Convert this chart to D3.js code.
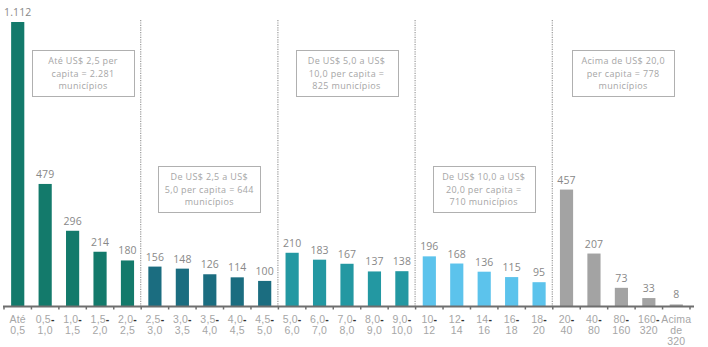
<!DOCTYPE html>
<html>
<head>
<meta charset="utf-8">
<script src="https://cdn.jsdelivr.net/npm/d3@7"></script>
<style>
  html, body { margin: 0; padding: 0; background: #fff; }
  svg { display: block; font-family: "Open Sans", Lato, sans-serif; }
</style>
</head>
<body>
<svg id="chart" width="708" height="347"></svg>
<script>
// Municipalities by per-capita band (US$)
const categories = [
  "Até|0,5", "0,5-|1,0", "1,0-|1,5", "1,5-|2,0", "2,0-|2,5",
  "2,5-|3,0", "3,0-|3,5", "3,5-|4,0", "4,0-|4,5", "4,5-|5,0",
  "5,0-|6,0", "6,0-|7,0", "7,0-|8,0", "8,0-|9,0", "9,0-|10,0",
  "10-|12", "12-|14", "14-|16", "16-|18", "18-|20",
  "20-|40", "40-|80", "80-|160", "160-|320", "Acima|de|320"
];
const values = [
  1112, 479, 296, 214, 180,
  156, 148, 126, 114, 100,
  210, 183, 167, 137, 138,
  196, 168, 136, 115, 95,
  457, 207, 73, 33, 8
];
const groupOf = [0,0,0,0,0, 1,1,1,1,1, 2,2,2,2,2, 3,3,3,3,3, 4,4,4,4,4];
const groupColors = ["#137a6b", "#1b6d80", "#2398a2", "#5cc3ec", "#a3a3a3"];
const groupNotes = [
  ["Até US$ 2,5 per", "capita = 2.281", "municípios"],
  ["De US$ 2,5 a US$", "5,0 per capita = 644", "municípios"],
  ["De US$ 5,0 a US$", "10,0 per capita =", "825 municípios"],
  ["De US$ 10,0 a US$", "20,0 per capita =", "710 municípios"],
  ["Acima de US$ 20,0", "per capita = 778", "municípios"]
];
const notePlacement = ["high", "low", "high", "low", "high"];

const svg = d3.select("#chart");
const margin = { left: 4, right: 18, top: 22, bottom: 40 };
const W = 708, H = 347;
const baseY = 306.5;

const x = d3.scaleBand()
  .domain(d3.range(categories.length))
  .range([margin.left, W - margin.right])
  .paddingInner(0.52)
  .paddingOuter(0.26);

const y = d3.scaleLinear()
  .domain([0, 1112])
  .range([baseY, margin.top]);

const fmt = d3.formatLocale({ decimal: ",", thousands: ".", grouping: [3], currency: ["", ""] }).format(",d");

// group separators (dotted)
const step = x.step();
const groupEdges = [5, 10, 15, 20].map(i => x(i) - x.paddingInner() * step / 2 - 0.5);
svg.append("g").selectAll("line")
  .data(groupEdges)
  .join("line")
  .attr("x1", d => d).attr("x2", d => d)
  .attr("y1", 20).attr("y2", baseY)
  .attr("stroke", "#9a9a9a")
  .attr("stroke-width", 1.2)
  .attr("stroke-dasharray", "1.2,1.2");

// bars
svg.append("g").selectAll("rect")
  .data(values)
  .join("rect")
  .attr("x", (d, i) => x(i))
  .attr("width", x.bandwidth())
  .attr("y", d => y(d))
  .attr("height", d => baseY - y(d))
  .attr("fill", (d, i) => groupColors[groupOf[i]]);

// value labels
svg.append("g").selectAll("text")
  .data(values)
  .join("text")
  .attr("x", (d, i) => x(i) + x.bandwidth() / 2)
  .attr("y", d => y(d) - 6)
  .attr("text-anchor", "middle")
  .attr("font-size", 10.5)
  .attr("letter-spacing", 0.1)
  .attr("fill", "#888")
  .text(d => fmt(d));

// x axis
const xAxis = d3.axisBottom(x).tickSize(3).tickFormat("");
const axisG = svg.append("g")
  .attr("transform", `translate(0,${baseY})`)
  .call(xAxis);
axisG.select(".domain").remove();
axisG.append("line")
  .attr("x1", 3).attr("x2", 694)
  .attr("stroke", "#6e6e6e").attr("stroke-width", 2);
// ticks at band edges
axisG.selectAll(".tick line")
  .attr("transform", `translate(${-step / 2},0)`)
  .attr("stroke", "#6e6e6e").attr("stroke-width", 1.5);
axisG.append("line")
  .attr("x1", x(categories.length - 1) + x.bandwidth() / 2 + step / 2)
  .attr("x2", x(categories.length - 1) + x.bandwidth() / 2 + step / 2)
  .attr("y1", 0).attr("y2", 3)
  .attr("stroke", "#6e6e6e").attr("stroke-width", 1.5);

// tick labels (multi-line)
axisG.selectAll(".tick").each(function(d) {
  const lines = categories[d].split("|");
  const t = d3.select(this).append("text")
    .attr("text-anchor", "middle")
    .attr("font-size", 10.5)
    .attr("letter-spacing", 0.2)
    .attr("fill", "#a6a6a6");
  lines.forEach((ln, k) => {
    const ts = t.append("tspan")
      .attr("x", 0)
      .attr("y", 16 + k * 11);
    if (ln.endsWith("-")) {
      ts.append("tspan").text(ln.slice(0, -1));
      ts.append("tspan").attr("fill", "#333").attr("font-weight", "bold").text("-");
    } else {
      ts.text(ln);
    }
  });
});

// group notes
const boxW = 102, boxH = 46;
groupNotes.forEach((lines, g) => {
  const left = g === 0 ? margin.left : groupEdges[g - 1];
  const right = g === 4 ? 694 : groupEdges[g];
  const cx = g === 0 ? 83 : (left + right) / 2;
  const top = notePlacement[g] === "high" ? 50.5 : 166.5;
  const gg = svg.append("g");
  gg.append("rect")
    .attr("x", Math.round(cx - boxW / 2) + 0.5)
    .attr("y", top)
    .attr("width", boxW)
    .attr("height", boxH)
    .attr("fill", "#fff")
    .attr("stroke", "#b0b0b0")
    .attr("stroke-width", 1);
  gg.append("text")
    .attr("text-anchor", "middle")
    .attr("font-size", 9)
    .attr("letter-spacing", 0.35)
    .attr("fill", "#a6a6a6")
    .selectAll("tspan")
    .data(lines)
    .join("tspan")
    .attr("x", cx)
    .attr("y", (d, k) => top + 13.5 + k * 12.5)
    .text(d => d);
});
</script>
</body>
</html>
